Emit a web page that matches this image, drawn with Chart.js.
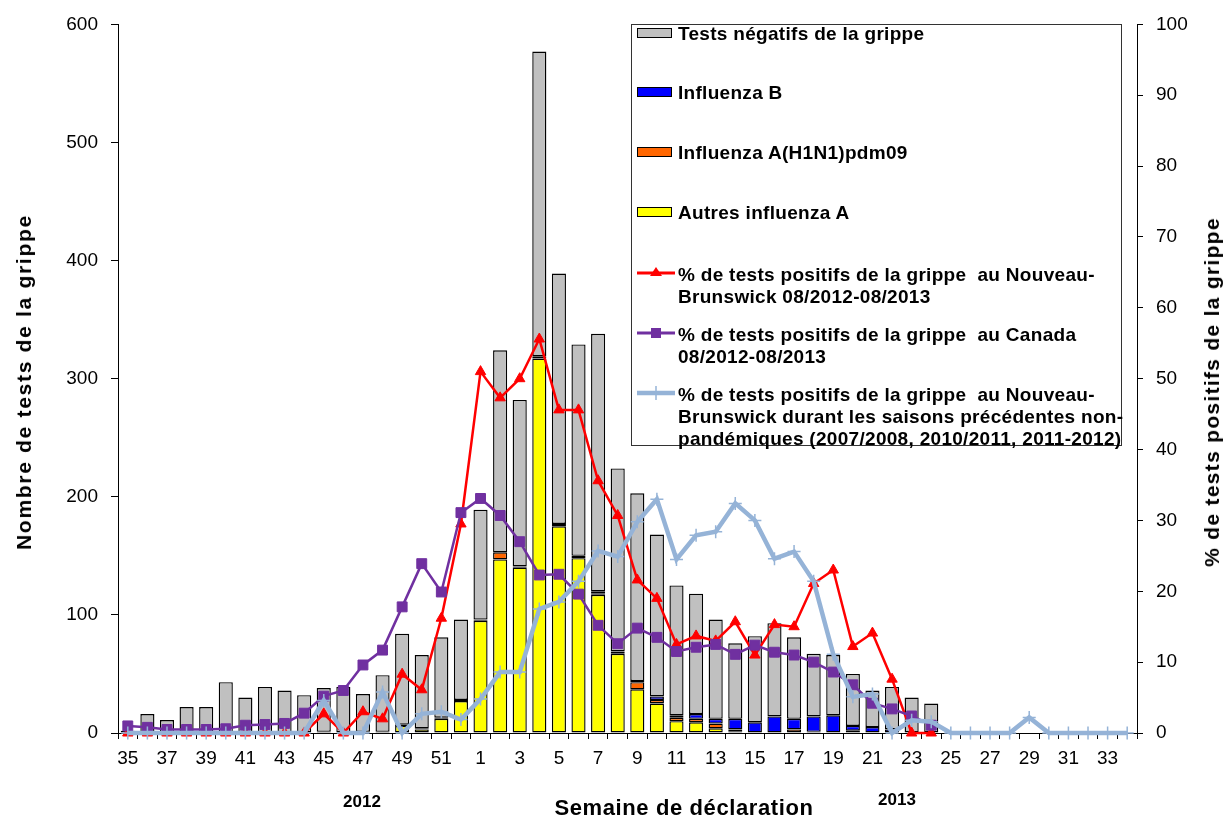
<!DOCTYPE html>
<html>
<head>
<meta charset="utf-8">
<script src="https://cdn.jsdelivr.net/npm/chart.js@4.4.0/dist/chart.umd.min.js"></script>
<style>
  body { margin: 0; background: #fff; }
  #wrap { position: relative; width: 1228px; height: 825px; font-family: "Liberation Sans", Arial, sans-serif; color: #000; overflow: hidden; }
  #c { position: absolute; left: 0; top: 0; }
  .t { position: absolute; font-weight: bold; white-space: nowrap; }
  #legend { position: absolute; left: 631px; top: 24px; width: 491px; height: 422px; border: 1.5px solid #333; box-sizing: border-box; background: #fff; }
  .li { position: absolute; left: 46px; font-weight: bold; font-size: 19px; letter-spacing: 0.3px; line-height: 22px; height: 22px; white-space: pre; }
  .sw { position: absolute; left: 5px; width: 33px; height: 8px; border: 1.5px solid #000; }
  .ls { position: absolute; left: 4px; }
</style>
</head>
<body>
<div id="wrap">
  <canvas id="c" width="1228" height="825"></canvas>
  <div id="legend"></div>
  <div class="t" id="ytitle" style="left:24px;top:382px;font-size:21px;letter-spacing:1.7px;transform:translate(-50%,-50%) rotate(-90deg);">Nombre de tests de la grippe</div>
  <div class="t" id="y1title" style="left:1212px;top:392px;font-size:21px;letter-spacing:1.3px;transform:translate(-50%,-50%) rotate(-90deg);">% de tests positifs de la grippe</div>
  <div class="t" id="xtitle" style="left:684px;top:808px;font-size:22px;letter-spacing:0.6px;transform:translate(-50%,-50%);">Semaine de déclaration</div>
  <div class="t" style="left:362px;top:802px;font-size:17px;transform:translate(-50%,-50%);">2012</div>
  <div class="t" style="left:897px;top:800px;font-size:17px;transform:translate(-50%,-50%);">2013</div>
</div>
<script>
// ---- Data ----
const weeks = ['35','36','37','38','39','40','41','42','43','44','45','46','47','48','49','50','51','52',
  '1','2','3','4','5','6','7','8','9','10','11','12','13','14','15','16','17','18','19','20','21','22','23','24',
  '25','26','27','28','29','30','31','32','33','34'];

const negatifs = [2,16,11,22,22,43,30,39,36,32,37,39,32,48,77,62,68,68,
  93,171,141,258,212,179,218,155,159,137,110,102,84,64,73,79,69,53,51,44,31,36,30,25,
  null,null,null,null,null,null,null,null,null,null];

const grippeB = [null,null,null,null,null,null,null,null,null,null,null,null,null,null,null,null,null,null,
  null,null,null,null,null,null,2,null,1,3,2,4,4,9,9,14,9,13,15,4,5,3,null,null,
  null,null,null,null,null,null,null,null,null,null];

const h1n1 = [null,null,null,null,null,null,null,null,null,null,null,null,null,null,1,1,1,1,
  1,6,1,2,2,2,1,2,6,3,3,3,4,2,null,null,3,1,null,2,null,null,null,null,
  null,null,null,null,null,null,null,null,null,null];

const autresA = [null,null,null,null,null,null,null,null,null,null,1,null,1,1,6,3,12,27,
  95,147,140,317,175,148,117,67,37,25,10,9,4,1,null,null,null,null,null,null,null,null,null,null,
  null,null,null,null,null,null,null,null,null,null];

const pctNB = [0,0,0,0,0,0,0,0,0,0,2.7,0,3.0,2.0,8.3,6.1,16.2,29.5,
  51,47.3,50,55.6,45.6,45.6,35.6,30.7,21.6,19,12.5,13.7,13,15.7,11,15.3,15,21.1,23,12.2,14.1,7.6,0,0,
  null,null,null,null,null,null,null,null,null,null];

const pctCanada = [1.0,0.8,0.5,0.5,0.5,0.6,1.1,1.2,1.35,2.8,5.2,6.0,9.6,11.7,17.8,23.9,19.9,31.1,
  33.1,30.7,27,22.3,22.4,19.6,15.2,12.6,14.8,13.5,11.5,12.1,12.5,11.1,12.4,11.4,11.0,10.0,8.6,6.8,4.2,3.4,2.4,1.1,
  null,null,null,null,null,null,null,null,null,null];

const pctPrecedentes = [0,0,0,0,0,0,0,0,0,0,4.6,0,0,5.8,0,2.7,3.0,1.9,
  4.8,8.6,8.6,17.5,18.5,21.4,25.7,24.9,29.8,33,24.5,27.9,28.4,32.4,30,24.6,25.6,21.4,11.1,5.1,5.5,0,1.8,1.6,
  0,0,0,0,2.2,0,0,0,0,0];

const leftTicks = [0,100,200,300,400,500,600];
const rightTicks = [0,10,20,30,40,50,60,70,80,90,100];

const seriesNames = {
  neg: 'Tests négatifs de la grippe',
  b: 'Influenza B',
  h1: 'Influenza A(H1N1)pdm09',
  a: 'Autres influenza A',
  nb: ['% de tests positifs de la grippe  au Nouveau-', 'Brunswick 08/2012-08/2013'],
  ca: ['% de tests positifs de la grippe  au Canada', '08/2012-08/2013'],
  prev: ['% de tests positifs de la grippe  au Nouveau-', 'Brunswick durant les saisons précédentes non-', 'pandémiques (2007/2008, 2010/2011, 2011-2012)']
};

const colors = { neg: '#C0C0C0', b: '#0000FF', h1: '#FF6600', a: '#FFFF00', nb: '#FF0000', ca: '#7030A0', prev: '#95B3D7' };

// ---- Legend (HTML) ----
const legend = document.getElementById('legend');
function addText(lines, centerY) {
  lines.forEach((ln, i) => {
    const d = document.createElement('div');
    d.className = 'li';
    d.textContent = ln;
    d.style.top = (centerY - 11 + i * 22) + 'px';
    legend.appendChild(d);
  });
}
function addBarItem(name, color, centerY) {
  const s = document.createElement('div');
  s.className = 'sw';
  s.style.background = color;
  s.style.top = (centerY - 6) + 'px';
  legend.appendChild(s);
  addText([name], centerY);
}
function addLineItem(lines, color, marker, centerY, lw) {
  const ns = 'http://www.w3.org/2000/svg';
  const svg = document.createElementNS(ns, 'svg');
  svg.setAttribute('width', '40'); svg.setAttribute('height', '16');
  svg.setAttribute('class', 'ls');
  svg.style.top = (centerY - 10) + 'px';
  const l = document.createElementNS(ns, 'line');
  l.setAttribute('x1', '1'); l.setAttribute('x2', '39'); l.setAttribute('y1', '8'); l.setAttribute('y2', '8');
  l.setAttribute('stroke', color); l.setAttribute('stroke-width', lw);
  svg.appendChild(l);
  let m;
  if (marker === 'tri') {
    m = document.createElementNS(ns, 'polygon');
    m.setAttribute('points', '20,2 26,11 14,11');
    m.setAttribute('fill', color);
  } else if (marker === 'sq') {
    m = document.createElementNS(ns, 'rect');
    m.setAttribute('x', '15'); m.setAttribute('y', '3'); m.setAttribute('width', '10'); m.setAttribute('height', '10');
    m.setAttribute('fill', color);
  } else {
    m = document.createElementNS(ns, 'line');
    m.setAttribute('x1', '20'); m.setAttribute('x2', '20'); m.setAttribute('y1', '1'); m.setAttribute('y2', '15');
    m.setAttribute('stroke', color); m.setAttribute('stroke-width', '1.5');
  }
  svg.appendChild(m);
  legend.appendChild(svg);
  addText(lines, centerY);
}
// centers relative to legend box (box top = 24, border 1.5)
addBarItem(seriesNames.neg, colors.neg, 9);
addBarItem(seriesNames.b, colors.b, 68);
addBarItem(seriesNames.h1, colors.h1, 128);
addBarItem(seriesNames.a, colors.a, 188);
addLineItem(seriesNames.nb, colors.nb, 'tri', 250, 3);
addLineItem(seriesNames.ca, colors.ca, 'sq', 310, 3);
addLineItem(seriesNames.prev, colors.prev, 'cross', 370, 4.5);

// ---- Chart ----
const FONT = '"Liberation Sans", Arial, sans-serif';
const barCommon = { type: 'bar', yAxisID: 'y', stack: 's', borderColor: '#000', borderWidth: 1.4, borderSkipped: false,
  barPercentage: 0.72, categoryPercentage: 1.0, order: 10 };

new Chart(document.getElementById('c'), {
  data: {
    labels: weeks,
    datasets: [
      Object.assign({}, barCommon, { label: seriesNames.a, data: autresA, backgroundColor: colors.a }),
      Object.assign({}, barCommon, { label: seriesNames.h1, data: h1n1, backgroundColor: colors.h1 }),
      Object.assign({}, barCommon, { label: seriesNames.b, data: grippeB, backgroundColor: colors.b }),
      Object.assign({}, barCommon, { label: seriesNames.neg, data: negatifs, backgroundColor: colors.neg }),
      { type: 'line', label: seriesNames.nb.join(' '), data: pctNB, yAxisID: 'y1', order: 3,
        borderColor: colors.nb, backgroundColor: colors.nb, borderWidth: 2.5, pointStyle: 'triangle',
        pointRadius: 6, pointBorderWidth: 1, pointBackgroundColor: colors.nb, pointBorderColor: colors.nb,
        tension: 0, clip: false, spanGaps: false },
      { type: 'line', label: seriesNames.ca.join(' '), data: pctCanada, yAxisID: 'y1', order: 2,
        borderColor: colors.ca, backgroundColor: colors.ca, borderWidth: 2.5, pointStyle: 'rect',
        pointRadius: 7, pointBorderWidth: 1, pointBackgroundColor: colors.ca, pointBorderColor: colors.ca,
        tension: 0, clip: false },
      { type: 'line', label: seriesNames.prev.join(' '), data: pctPrecedentes, yAxisID: 'y1', order: 1,
        borderColor: colors.prev, backgroundColor: colors.prev, borderWidth: 4.5, pointStyle: 'cross',
        pointRadius: 6.5, pointBorderWidth: 1.5, pointBorderColor: colors.prev,
        tension: 0, clip: false }
    ]
  },
  options: {
    responsive: false,
    animation: false,
    layout: { padding: { top: 15, left: 0, right: 0, bottom: 0 } },
    plugins: { legend: { display: false }, tooltip: { enabled: false }, title: { display: false } },
    scales: {
      x: {
        stacked: true,
        offset: true,
        grid: { display: true, drawOnChartArea: false, offset: true, drawTicks: true, tickLength: 6, tickColor: '#000', tickWidth: 1 },
        border: { display: true, color: '#000', width: 1 },
        ticks: { autoSkip: false, maxRotation: 0, minRotation: 0, padding: 8, color: '#000',
          font: { family: FONT, size: 19 },
          callback: function(v, i) { return i % 2 === 0 ? weeks[i] : ''; } },
        afterFit: function(s) { s.height = 92; }
      },
      y: {
        position: 'left', stacked: true, min: 0, max: 600,
        afterBuildTicks: function(s) { s.ticks = leftTicks.map(v => ({ value: v })); },
        grid: { display: true, drawOnChartArea: false, drawTicks: true, tickLength: 7, tickColor: '#000' },
        border: { display: true, color: '#000', width: 1 },
        ticks: { padding: 13, color: '#000', font: { family: FONT, size: 19 } },
        afterFit: function(s) { s.width = 118; }
      },
      y1: {
        position: 'right', min: 0, max: 100,
        afterBuildTicks: function(s) { s.ticks = rightTicks.map(v => ({ value: v })); },
        grid: { display: true, drawOnChartArea: false, drawTicks: true, tickLength: 6, tickColor: '#000' },
        border: { display: true, color: '#000', width: 1 },
        ticks: { padding: 13, color: '#000', font: { family: FONT, size: 19 } },
        afterFit: function(s) { s.width = 91; }
      }
    }
  }
});
</script>
</body>
</html>
